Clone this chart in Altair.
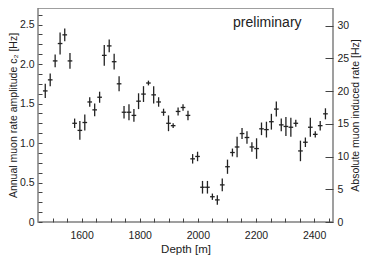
import altair as alt
import pandas as pd

depth = [1475, 1492, 1509, 1526, 1542, 1560, 1576, 1594, 1611, 1628,
         1645, 1662, 1678, 1695, 1712, 1729, 1746, 1763, 1780, 1796,
         1813, 1830, 1848, 1865, 1882, 1899, 1915, 1932, 1949, 1966,
         1982, 1999, 2016, 2033, 2050, 2067, 2084, 2102, 2119, 2135,
         2152, 2169, 2186, 2202, 2219, 2236, 2253, 2270, 2287, 2303,
         2320, 2337, 2353, 2370, 2387, 2404, 2421, 2439]
amp = [1.66, 1.80, 2.04, 2.26, 2.37, 2.04, 1.25, 1.16, 1.26, 1.52,
       1.42, 1.58, 2.11, 2.23, 2.03, 1.75, 1.39, 1.39, 1.35, 1.53,
       1.62, 1.76, 1.61, 1.52, 1.39, 1.25, 1.22, 1.40, 1.45, 1.35,
       0.80, 0.83, 0.44, 0.44, 0.32, 0.28, 0.47, 0.70, 0.88, 0.95,
       1.12, 1.07, 0.95, 0.93, 1.18, 1.17, 1.27, 1.43, 1.23, 1.21,
       1.20, 1.25, 0.90, 1.01, 1.20, 1.11, 1.22, 1.37]
err = [0.09, 0.08, 0.08, 0.14, 0.08, 0.10, 0.06, 0.12, 0.10, 0.06,
       0.08, 0.07, 0.13, 0.08, 0.10, 0.095, 0.08, 0.10, 0.08, 0.10,
       0.10, 0.03, 0.11, 0.06, 0.045, 0.10, 0.03, 0.05, 0.04, 0.06,
       0.06, 0.06, 0.08, 0.08, 0.04, 0.06, 0.08, 0.09, 0.05, 0.13,
       0.07, 0.08, 0.06, 0.13, 0.08, 0.10, 0.10, 0.095, 0.08, 0.12,
       0.12, 0.045, 0.13, 0.06, 0.12, 0.04, 0.06, 0.07]

x_ticks = list(range(1500, 2451, 50))
y_ticks = [i * 0.125 for i in range(0, 22)]
r_ticks = [0, 5, 10, 15, 20, 25, 30]

df = pd.DataFrame({"depth": depth, "amp": amp, "err": err})

FONT = "Liberation Sans"
INK = "#222222"

xscale = alt.Scale(domain=[1450, 2465], nice=False, zero=False)
yscale = alt.Scale(domain=[0, 2.71], nice=False, zero=True)
rscale = alt.Scale(domain=[0, 32.7], nice=False, zero=True)

xaxis = alt.Axis(values=x_ticks, title="Depth [m]",
                 labelExpr="datum.value % 200 == 0 ? format(datum.value, 'd') : ''",
                 tickSize=4, offset=-4, domain=False, grid=False,
                 labelPadding=8, titlePadding=3, labelFontSize=10.5,
                 titleFontSize=11.5, labelOverlap=False, labelFlush=False)
yaxis = alt.Axis(values=y_ticks, title="Annual muon rate amplitude c\u2082 [Hz]",
                 labelExpr="datum.value % 0.5 == 0 ? (datum.value == 0 ? '0' : format(datum.value, '.1f')) : ''",
                 tickSize=4, offset=-4, domain=False, grid=False,
                 labelPadding=4, titlePadding=1, labelFontSize=10.5,
                 titleFontSize=10.5, labelOverlap=False, labelFlush=False)
raxis = alt.Axis(values=r_ticks, orient="right",
                 labelExpr="format(datum.value, 'd')",
                 title="Absolute muon induced rate [Hz]", titleAngle=270,
                 titleBaseline="top",
                 tickSize=8, offset=-8, domain=False, grid=False,
                 labelPadding=4, titlePadding=2, labelFontSize=10.5,
                 titleFontSize=10.5, labelOverlap=False, labelFlush=False)

base = alt.Chart(df).transform_calculate(
    lo="datum.amp - datum.err",
    hi="datum.amp + datum.err",
    xl="datum.depth - 8",
    xr="datum.depth + 8",
)

vbar = base.mark_rule(color=INK, strokeWidth=1.3).encode(
    x=alt.X("depth:Q", scale=xscale, axis=xaxis),
    y=alt.Y("lo:Q", scale=yscale, axis=yaxis),
    y2="hi:Q",
)
hbar = base.mark_rule(color=INK, strokeWidth=1.3).encode(
    x=alt.X("xl:Q", scale=xscale, axis=xaxis),
    x2="xr:Q",
    y=alt.Y("amp:Q", scale=yscale, axis=yaxis),
)
label = alt.Chart(pd.DataFrame({"t": ["preliminary"], "x": [2239], "y": [2.47]})).mark_text(
    font=FONT, fontSize=14, color=INK, align="center", baseline="alphabetic"
).encode(
    x=alt.X("x:Q", scale=xscale, axis=xaxis),
    y=alt.Y("y:Q", scale=yscale, axis=yaxis),
    text="t:N",
)
left = alt.layer(vbar, hbar, label)

right = base.mark_point(opacity=0).encode(
    x=alt.X("depth:Q", scale=xscale, axis=xaxis),
    y=alt.Y("amp:Q", scale=rscale, axis=raxis),
)

chart = alt.layer(left, right).resolve_scale(y="independent").properties(
    width=295, height=214,
    autosize=alt.AutoSizeParams(type="none"),
    padding={"left": 30, "right": 29, "top": 0, "bottom": 35},
).configure_view(
    stroke="#808080", strokeWidth=1.5
).configure_axis(
    labelFont=FONT, titleFont=FONT, labelColor=INK, titleColor=INK,
    tickColor="#444444", titleFontWeight="normal", tickWidth=1,
    labelOverlap=False,
)

chart.save("out.html", embed_options={"renderer": "svg", "actions": False})
